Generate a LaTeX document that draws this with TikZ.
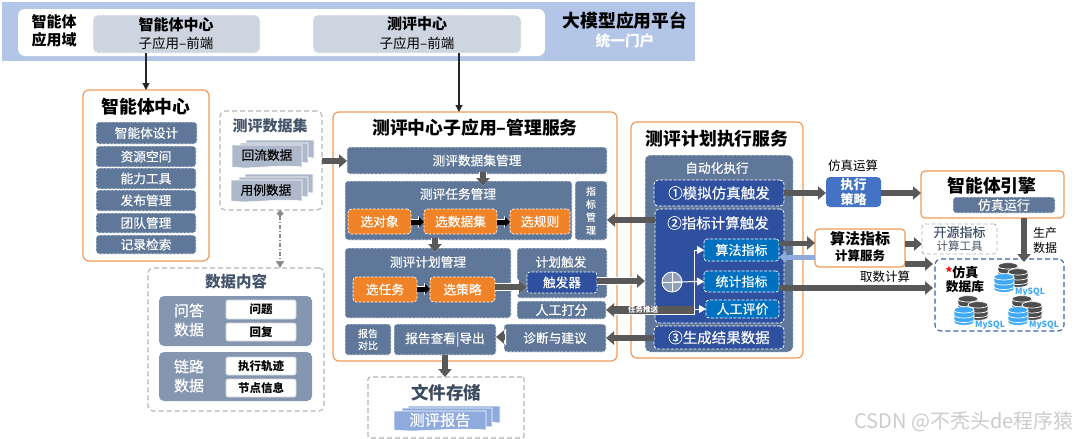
\documentclass[tikz,border=0pt]{standalone}
\usepackage{fontspec}
\setmainfont{Noto Sans CJK SC}
\newfontfamily\medf{Noto Sans CJK SC}[FakeBold=0.25]
\usetikzlibrary{arrows.meta,calc}
\definecolor{slate}{HTML}{5F7899}
\definecolor{panelc}{HTML}{8496B0}
\definecolor{orgb}{HTML}{F08228}
\definecolor{orgl}{HTML}{F29A55}
\definecolor{navy}{HTML}{2F4F9F}
\definecolor{bandc}{HTML}{B4C6E7}
\definecolor{greyb}{HTML}{CDD5E0}
\definecolor{darkt}{HTML}{44546A}
\definecolor{arrowc}{HTML}{595959}
\definecolor{dashg}{HTML}{B5B5B5}
\definecolor{skyb}{HTML}{0070C0}
\definecolor{midb}{HTML}{4472C4}
\definecolor{lightb}{HTML}{8FAADC}
\definecolor{docg}{HTML}{ADB9CA}
\definecolor{dbblue}{HTML}{3FA9F5}
\definecolor{dbdark}{HTML}{4D4D4D}
\newcommand\fs[1]{\fontsize{#1}{#1}\selectfont}
\newcommand\bx[7]{%
  \pgfmathsetmacro\bxw{#4-#2}\pgfmathsetmacro\bxh{#5-#3}%
  \pgfmathsetmacro\bxx{(#2+#4)/2}\pgfmathsetmacro\bxy{(#3+#5)/2}%
  \node[#6,minimum width=\bxw pt,minimum height=\bxh pt,inner sep=0pt,outer sep=0pt] (#1) at (\bxx,\bxy) {#7};}
\newcommand\tx[5]{\node[inner sep=0pt,outer sep=0pt,align=center,#4] (#1) at (#2,#3) {#5};}
\newcommand\wav[5]{\filldraw[draw=white,line width=.6pt,fill=#5] (#1,#2) -- (#3,#2) -- (#3,#4) .. controls ($(#1,#4)!.6!(#3,#4)+(0,-3)$) and ($(#1,#4)!.3!(#3,#4)+(0,3)$) .. (#1,#4) -- cycle;}
\newcommand\dbcyl[3]{\begin{scope}[shift={(#1,#2)}]
  \filldraw[draw=white,line width=.7pt,fill=#3] (-10,-6) -- (-10,6) .. controls (-10,10.5) and (10,10.5) .. (10,6) -- (10,-6) .. controls (10,-10.5) and (-10,-10.5) .. (-10,-6) -- cycle;
  \draw[white,line width=.7pt] (-10,-6) .. controls (-10,-2) and (10,-2) .. (10,-6);
  \draw[white,line width=.7pt] (-10,-1) .. controls (-10,3) and (10,3) .. (10,-1);
  \draw[white,line width=.7pt] (-10,3.5) .. controls (-10,7.5) and (10,7.5) .. (10,3.5);
\end{scope}}
\newcommand\dbicon[3]{%
  \pgfmathsetmacro\dbxa{#2+4}\pgfmathsetmacro\dbya{#3-11}\dbcyl{\dbxa}{\dbya}{dbdark}%
  \pgfmathsetmacro\dbxb{#2+14}\pgfmathsetmacro\dbyb{#3-5}\dbcyl{\dbxb}{\dbyb}{dbdark}%
  \dbcyl{#2}{#3}{dbblue}%
  \pgfmathsetmacro\dbxc{#2+26}\pgfmathsetmacro\dbyc{#3+9}%
  \tx{#1}{\dbxc}{\dbyc}{text=dbblue,font=\fs{8.5}\bfseries}{MySQL}}
\tikzset{
  x=1pt,y=-1pt,
  slatebox/.style={fill=slate,rounded corners=3pt,text=white,font=\fs{12.7}\medf,draw=white,dash pattern=on 2.5pt off 1.2pt,line width=.6pt},
  orgbox/.style={fill=orgb,rounded corners=3.5pt,text=white,font=\fs{12.8}\medf,draw=white,dash pattern=on 2.5pt off 1.5pt,line width=.7pt},
  navybox/.style={fill=navy,rounded corners=4pt,text=white,font=\fs{14.5}\medf,draw=white,dash pattern=on 3pt off 1.5pt,line width=.8pt},
  skybox/.style={fill=skyb,rounded corners=3pt,text=white,font=\fs{13}\medf,draw=white,dash pattern=on 3pt off 1.5pt,line width=.7pt},
  orangeframe/.style={draw=orgl,line width=1.2pt,rounded corners=6pt,fill=white},
  greydash/.style={draw=dashg,line width=1.1pt,dash pattern=on 5pt off 3pt,rounded corners=5pt,fill=white},
  greyfe/.style={fill=greyb,rounded corners=5pt,draw=white,dash pattern=on 3pt off 1.5pt,line width=.7pt},
  whitecell/.style={fill=white,rounded corners=2pt,draw=greyb,line width=.8pt,font=\fs{11.5}\bfseries,text=black},
  thinarrow/.style={draw=black!85,line width=1.1pt,-{Triangle[length=7pt,width=7pt]}},
  fat/.style={draw=arrowc,line width=6.5pt,-{Triangle[length=8pt,width=13pt]}},
  fatout/.style={fat,preaction={draw=white,line width=8pt,-{Triangle[length=10pt,width=16pt]}}},
  blackfat/.style={draw=black,line width=5pt,-{Triangle[length=5pt,width=10pt]},preaction={draw=white,line width=6.5pt,-{Triangle[length=6pt,width=12pt]}}},
  whitearrow/.style={draw=white,line width=1pt,-{Triangle[length=7pt,width=8pt]}},
}
\begin{document}
\begin{tikzpicture}
\useasboundingbox (0,0) rectangle (1080,439);
\fill[white] (0,0) rectangle (1080,439);
% top band
\bx{band}{2}{2}{695}{61}{fill=bandc}{}
\bx{inner}{18}{9}{545}{56}{fill=white,rounded corners=7pt}{}
\bx{fe1}{93}{15}{260}{53}{greyfe}{}
\bx{fe2}{313}{15}{521}{53}{greyfe}{}
\tx{dom}{54}{31}{font=\fs{15}\bfseries}{智能体\\[3pt]应用域}
\tx{fe1a}{176}{25}{font=\fs{15}\bfseries}{智能体中心}
\tx{fe1b}{176}{43}{font=\fs{13.5}}{子应用–前端}
\tx{fe2a}{417}{24}{font=\fs{15}\bfseries}{测评中心}
\tx{fe2b}{417}{43}{font=\fs{13.5}}{子应用–前端}
\tx{plat}{625}{21}{font=\fs{17.8}\bfseries}{大模型应用平台}
\tx{door}{625}{41}{font=\fs{14.7}\bfseries,text=white}{统一门户}
% agent centre
\bx{ag}{83}{90}{209}{261}{orangeframe}{}
\tx{agt}{146}{107}{font=\fs{17.8}\bfseries}{智能体中心}
\bx{a1}{96}{122}{197}{144}{slatebox}{智能体设计}
\bx{a2}{96}{146}{196}{167}{slatebox}{资源空间}
\bx{a3}{96}{168}{196}{189}{slatebox}{能力工具}
\bx{a4}{96}{190}{196}{211}{slatebox}{发布管理}
\bx{a5}{96}{213}{196}{233}{slatebox}{团队管理}
\bx{a6}{96}{235}{196}{254}{slatebox}{记录检索}
% dataset
\bx{ds}{220}{111}{322}{210}{greydash}{}
\tx{dst}{270}{126}{font=\fs{15}\bfseries,text=darkt}{测评数据集}
\wav{246}{140}{314}{158}{docg}
\wav{240}{143}{308}{163}{docg}
\wav{232}{145}{302}{167}{docg}
\tx{d1}{267}{155}{font=\fs{12.7}\medf}{回流数据}
\wav{245}{174}{313}{193}{docg}
\wav{239}{177}{308}{197}{docg}
\wav{231}{180}{302}{201}{docg}
\tx{d2}{266}{190}{font=\fs{12.7}\medf}{用例数据}
% data content
\bx{dc}{148}{268}{324}{411}{greydash}{}
\tx{dct}{236}{282}{font=\fs{15.5}\bfseries,text=darkt}{数据内容}
\bx{p1}{159}{296}{312}{346}{fill=panelc,rounded corners=5pt}{}
\tx{p1t}{189}{320}{font=\fs{15}\medf,text=white}{问答\\[4pt]数据}
\bx{c1}{226}{300}{296}{319}{whitecell}{问题}
\bx{c2}{226}{323}{296}{341}{whitecell}{回复}
\bx{p2}{159}{352}{312}{401}{fill=panelc,rounded corners=5pt}{}
\tx{p2t}{189}{376}{font=\fs{15}\medf,text=white}{链路\\[4pt]数据}
\bx{c3}{226}{357}{296}{375}{whitecell}{执行轨迹}
\bx{c4}{226}{379}{296}{397}{whitecell}{节点信息}
% management service
\bx{mg}{333}{112}{617}{361}{orangeframe}{}
\tx{mgt}{475}{128}{font=\fs{17.8}\bfseries}{测评中心子应用–管理服务}
\bx{m1}{347}{147}{607}{174}{slatebox}{测评数据集管理}
\bx{m2}{345}{181}{572}{240}{slatebox}{}
\tx{m2t}{458}{194}{font=\fs{12.7}\medf,text=white}{测评任务管理}
\bx{s1}{348}{209}{411}{234}{orgbox}{选对象}
\bx{s2}{424}{209}{497}{234}{orgbox}{选数据集}
\bx{s3}{510}{209}{570}{234}{orgbox}{选规则}
\bx{m3}{575}{181}{607}{240}{slatebox,font=\fs{10}\medf,align=center}{指\\[3pt]标\\[3pt]管\\[3pt]理}
\bx{m4}{345}{248}{511}{318}{slatebox}{}
\tx{m4t}{428}{262}{font=\fs{12.7}\medf,text=white}{测评计划管理}
\bx{s4}{353}{277}{417}{302}{orgbox}{选任务}
\bx{s5}{430}{277}{495}{302}{orgbox}{选策略}
\bx{m5}{517}{248}{607}{298}{slatebox}{}
\tx{m5t}{561}{262}{font=\fs{12.7}\medf,text=white}{计划触发}
\bx{tr}{527}{272}{597}{293}{fill=navy,rounded corners=3pt,text=white,font=\fs{12.7}\medf,draw=white,dash pattern=on 2.5pt off 1.5pt,line width=.7pt}{触发器}
\bx{m6}{517}{301}{606}{319}{slatebox,font=\fs{13}\medf}{人工打分}
\bx{m7}{345}{324}{391}{355}{slatebox,font=\fs{10}\medf,align=center}{报告\\[2pt]对比}
\bx{m8}{394}{324}{496}{355}{slatebox}{报告查看|导出}
\bx{m9}{504}{324}{606}{352}{slatebox}{诊断与建议}
% file store
\bx{fs}{368}{377}{524}{438}{greydash,rounded corners=2pt}{}
\tx{fst}{446}{393}{font=\fs{17.5}\bfseries,text=darkt!90!black}{文件存储}
\wav{408}{406}{500}{423}{lightb}
\wav{402}{408}{492}{427}{lightb}
\wav{394}{411}{486}{430}{lightb}
\tx{rep}{440}{420}{font=\fs{15.3}\medf,text=white}{测评报告}
% execution service
\bx{ex}{631}{122}{803}{358}{orangeframe}{}
\tx{ext}{717}{139}{font=\fs{17.8}\bfseries}{测评计划执行服务}
\bx{au}{645}{155}{793}{352}{fill=slate,rounded corners=5pt,draw=white,dash pattern=on 3pt off 1.5pt,line width=.5pt}{}
\tx{aut}{717}{168}{font=\fs{12.7}\medf,text=white}{自动化执行}
\bx{e1}{654}{180}{784}{206}{navybox}{①模拟仿真触发}
\bx{e2}{655}{209}{784}{323}{navybox}{}
\tx{e2t}{718}{223}{font=\fs{14.5}\medf,text=white}{②指标计算触发}
\bx{k1}{704}{239}{779}{261}{skybox}{算法指标}
\bx{k2}{704}{271}{779}{292}{skybox}{统计指标}
\bx{k3}{706}{300}{779}{318}{skybox}{人工评价}
\bx{e3}{654}{326}{784}{349}{navybox}{③生成结果数据}
% right side
\tx{simop}{853}{166}{font=\fs{12.5}}{仿真运算}
\bx{st}{826}{177}{881}{207}{fill=midb,rounded corners=4pt,text=white,font=\fs{13}\bfseries,align=center}{执行\\[2pt]策略}
\bx{en}{921}{171}{1064}{218}{orangeframe,rounded corners=4pt}{}
\tx{ent}{992}{186}{font=\fs{17.8}\bfseries}{智能体引擎}
\bx{en2}{953}{197}{1055}{213}{slatebox,font=\fs{13}\medf}{仿真运行}
\bx{sv}{815}{229}{905}{267}{orangeframe,rounded corners=4pt}{}
\tx{sv1}{860}{239}{font=\fs{15}\bfseries}{算法指标}
\tx{sv2}{860}{256}{font=\fs{12.5}\bfseries}{计算服务}
\bx{op}{922}{224}{997}{254}{greydash,line width=.9pt,dash pattern=on 4pt off 2.5pt,rounded corners=3pt,align=center,text=darkt}{\fs{13}\medf 开源指标\\[2pt]\fs{11.5}计算工具}
\bx{db}{935}{259}{1064}{331}{draw=midb!85!black,line width=1.1pt,dash pattern=on 5pt off 3pt,rounded corners=6pt,fill=white}{}
\tx{db1}{962}{272}{font=\fs{13}\bfseries}{\textcolor{red}{*}仿真}
\tx{db2}{965}{287}{font=\fs{12.7}\bfseries}{数据库}
\tx{calc}{885}{277}{font=\fs{12.5}}{取数计算}
\tx{prod}{1045}{240}{font=\fs{12}}{生产\\[3pt]数据}
\dbicon{my1}{1004}{283}
\dbicon{my2}{964}{316}
\dbicon{my3}{1018}{316}
\tx{wm}{964}{422}{font=\fs{20},text=black!20}{CSDN @不秃头de程序猿}
% thin connectors
\draw[thinarrow] (fe1.south -| ag.north) -- (ag.north);
\draw[thinarrow] (fe2.south -| 459,0) -- (mg.north -| 459,0);
\draw[draw=black!45,line width=1.2pt,dash pattern=on 4pt off 2pt on 1pt off 2pt,{Diamond[length=7pt,width=7pt,sep=0pt]}-{Triangle[length=7pt,width=8pt]}] (ds.south -| 280,0) -- (dc.north -| 280,0);
% fat connectors
\draw[fat] (ds.east |- 0,161) -- (m1.west |- 0,161);
\draw[fatout] ([yshift=2pt]m1.south -| 483,0) -- ([yshift=-5pt]m2.north -| 483,0);
\draw[fatout] ([yshift=2pt]m2.south -| 435,0) -- ([yshift=-4pt]m4.north -| 435,0);
\draw[blackfat] (s1.east |- 0,222) -- (s2.west |- 0,222);
\draw[blackfat] (s2.east |- 0,222) -- (s3.west |- 0,222);
\draw[blackfat] (s4.east |- 0,289) -- (s5.west |- 0,289);
\draw[fatout] (s5.east |- 0,287) -- (tr.west |- 0,287);
\draw[fatout] (tr.east |- 0,281) -- (au.west |- 0,281);
\draw[fat] (e2.west |- 0,220) -- (m3.east |- 0,220);
\draw[fat] (e3.west |- 0,338) -- (m9.east |- 0,338);
\draw[fatout] (m9.west |- 0,337) -- (m8.east |- 0,337);
\draw[fat] (m8.south -| 445,0) -- (fs.north -| 445,0);
\draw[fat] (e1.east |- 0,193) -- (st.west |- 0,193);
\draw[fat] (st.east |- 0,193) -- (en.west |- 0,193);
\draw[fat] (en.south -| 1024,0) -- ([yshift=-3pt]db.north -| 1024,0);
\draw[fat,line width=5pt] (k1.east |- 0,243) -- (sv.west |- 0,243);
\draw[draw=lightb,line width=5pt,-{Triangle[length=7pt,width=11pt]}] (sv.west |- 0,257) -- (k1.east |- 0,257);
\draw[fat] (sv.east |- 0,244) -- (op.west |- 0,244);
\draw[fat] (sv.east |- 0,264) -- ([xshift=-2pt]db.west |- 0,264);
\draw[fat] (k2.east |- 0,288) -- ([xshift=-2pt]db.west |- 0,288);
% manual-score branch
\coordinate (hub) at (672,282);
\coordinate (bus) at (694,282);
\draw[fill=panelc!90!white,draw=white,line width=.9pt] (hub) circle (10);
\draw[white,line width=.9pt] (662,282) -- (682,282) (672,272) -- (672,292);
\draw[whitearrow] (hub) -- (k2.west);
\draw[whitearrow] (bus |- k1.west) -- (k1.west);
\draw[white,line width=1pt] (bus |- k1.west) -- (bus |- 0,315);
\draw[whitearrow] (bus |- k3.west) -- (k3.west);
\draw[fatout,line width=7.5pt,preaction={draw=white,line width=9pt}] (bus |- 0,310) -- (m6.east |- 0,310);
\tx{push}{643}{310}{font=\fs{7.5}\bfseries,text=white}{任务推送}
\end{tikzpicture}
\end{document}
